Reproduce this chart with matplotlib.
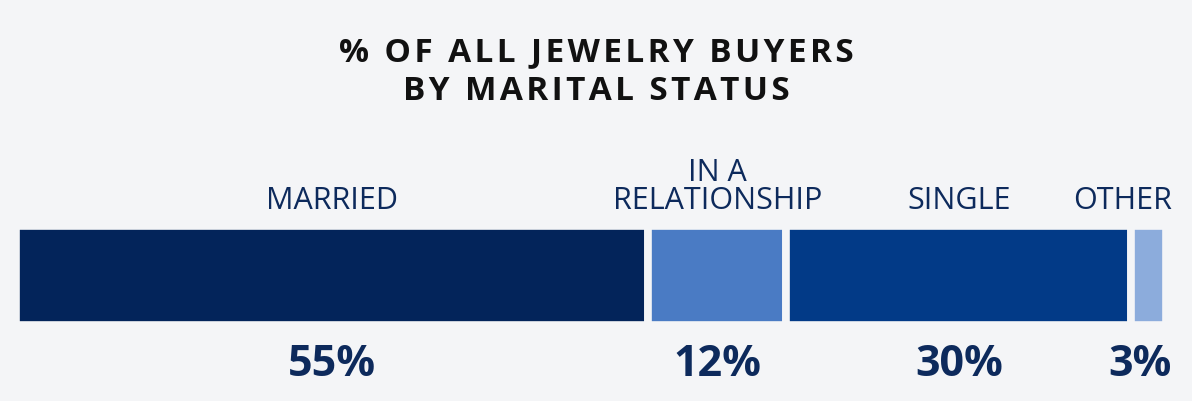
import matplotlib.pyplot as plt

# data
categories = ["MARRIED", "IN A\nRELATIONSHIP", "SINGLE", "OTHER"]
shares = [55, 12, 30, 3]
pct_labels = ["55%", "12%", "30%", "3%"]
colors = ["#03245a", "#4a7bc4", "#023a87", "#8cacdc"]
title = "% OF ALL JEWELRY BUYERS\nBY MARITAL STATUS"

bg = "#f4f5f7"
navy = "#0d2a5c"
W, H = 1192, 401
gap_lw = 5.5  # points, white gap between segments
pad = gap_lw * 100 / 72 / 2  # px hidden by the edge on each side


def spaced(s, sp="\u200a"):
    # crude letter spacing with hair spaces
    return "\n".join(sp.join(line) for line in s.split("\n"))


fig = plt.figure(figsize=(W / 100, H / 100), dpi=100, facecolor=bg)
# bar area: x 20..1162 px, y 230..321 px from top
x0, x1, y0, y1 = 20 - pad, 1162 + pad, 230 - pad, 321 + pad
ax = fig.add_axes([x0 / W, (H - y1) / H, (x1 - x0) / W, (y1 - y0) / H])
bh = y1 - y0
ax.set_facecolor(bg)
ax.set_xlim(0, sum(shares))
ax.set_ylim(0, 1)
ax.axis("off")

fams = ["Open Sans", "DejaVu Sans"]
right_edge = (1172 - x0) / (x1 - x0)  # last labels hug the right side
left = 0
for i, (cat, val, pl, col) in enumerate(zip(categories, shares, pct_labels, colors)):
    ax.barh(0.5, val, left=left, height=1, color=col, edgecolor=bg, linewidth=gap_lw)
    mid = left + val / 2
    ly = 1 + (14 - pad) / bh
    py = -(22 - pad) / bh
    if i == len(categories) - 1:
        ax.text(right_edge, ly, cat, transform=ax.transAxes, ha="right",
                va="bottom", fontsize=22, color=navy, family=fams, linespacing=0.9)
        ax.text(right_edge, py, pl, transform=ax.transAxes, ha="right", va="top",
                fontsize=31, fontweight="bold", color=navy, family=fams)
    else:
        ax.text(mid, ly, cat, ha="center", va="bottom", fontsize=22,
                color=navy, family=fams, linespacing=0.9)
        ax.text(mid, py, pl, ha="center", va="top", fontsize=31,
                fontweight="bold", color=navy, family=fams)
    left += val

fig.text(0.5, 1 - 36 / H, spaced(title), ha="center", va="top", fontsize=24,
         fontweight="bold", color="#111111", family=fams, linespacing=1.25)

fig.savefig("out.png", dpi=100, facecolor=bg)
